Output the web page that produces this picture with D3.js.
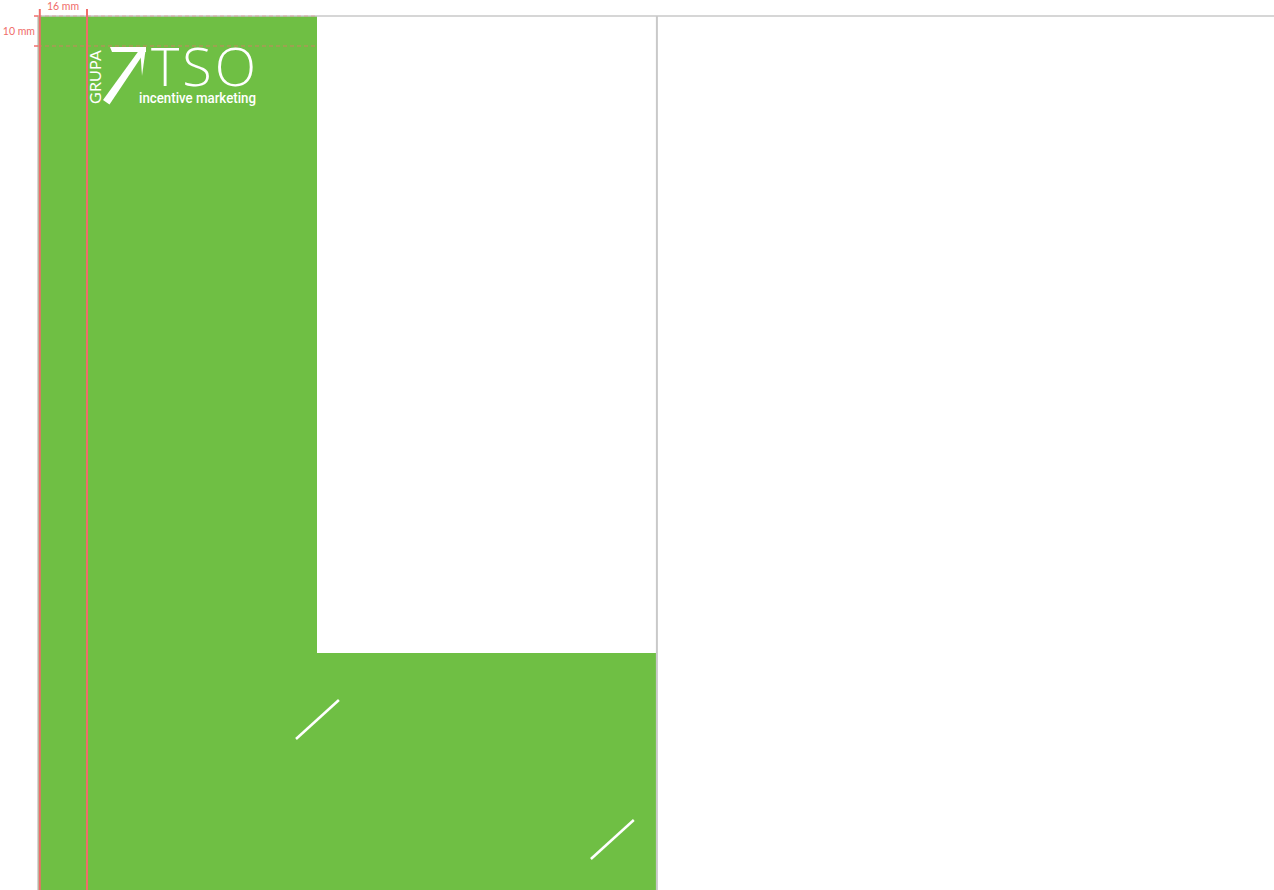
<!DOCTYPE html>
<html>
<head>
<meta charset="utf-8">
<script src="https://cdn.jsdelivr.net/npm/d3@7"></script>
<style>
  body { margin: 0; background: #fff; }
  svg { display: block; font-family: Lato, "Open Sans", sans-serif; }
</style>
</head>
<body>
<svg id="sheet"></svg>
<script>
// layout in mm, 3px per mm
let dimLabels = ["16 mm", "10 mm"];
let marginLeftMm = 16;
let marginTopMm = 10;
// green panel outline (mm from sheet corner)
let panelX = [0, 93, 93, 206, 206, 0];
let panelY = [0, 0, 212.3, 212.3, 300, 300];
// white slashes [x1, y1, x2, y2] in mm
let slashes = [[86, 241, 100.3, 228], [184.3, 281, 198.6, 268]];

let width = 1274, height = 890;
let green = "#6fbf44", red = "#f06c6a", grey = "#c9c9c9";

let svg = d3.select("#sheet").attr("width", width).attr("height", height);

let x = d3.scaleLinear().domain([0, 1]).range([38, 41]);
let y = d3.scaleLinear().domain([0, 1]).range([16, 19]);

// green panel
let line = d3.line().x(d => x(d[0])).y(d => y(d[1]));
svg.append("path")
  .attr("d", line(d3.zip(panelX, panelY)) + "Z")
  .attr("fill", green);

// sheet edges
svg.append("line").attr("x1", x(0)).attr("x2", width).attr("y1", y(0)).attr("y2", y(0))
  .attr("stroke", grey).attr("stroke-width", 1.5);
svg.append("line").attr("x1", x(206.3)).attr("x2", x(206.3)).attr("y1", y(0)).attr("y2", height)
  .attr("stroke", grey).attr("stroke-width", 2);
svg.append("line").attr("x1", x(0)).attr("x2", x(0)).attr("y1", y(0)).attr("y2", height)
  .attr("stroke", grey).attr("stroke-width", 1.5);

// slashes
svg.append("g").selectAll("line").data(slashes).enter().append("line")
  .attr("x1", d => x(d[0])).attr("y1", d => y(d[1]))
  .attr("x2", d => x(d[2])).attr("y2", d => y(d[3]))
  .attr("stroke", "#fff").attr("stroke-width", 2.5);

// logo
let logo = svg.append("g").attr("fill", "#fff");
logo.append("text")
  .attr("transform", "translate(101,104) rotate(-90)")
  .attr("font-size", 16).attr("font-weight", 400).attr("letter-spacing", 0.2)
  .text("GRUPA");
// arrow: top bar, right barb, diagonal stem
logo.append("path").attr("d", "M110,47 L146,47 L146,52 L112,52 Z");
logo.append("path").attr("d", "M140,47 L146,47 L142,76 Z");
logo.append("path").attr("d", "M103,100 L140,49 L145,51.5 L109.5,104.5 Z");
logo.append("text")
  .attr("x", 151).attr("y", 86)
  .attr("font-family", "'Open Sans', sans-serif")
  .attr("font-size", 54).attr("font-weight", 350)
  .attr("textLength", 105).attr("lengthAdjust", "spacing")
  .text("TSO");
logo.append("text")
  .attr("x", 139).attr("y", 103)
  .attr("font-family", "Roboto, sans-serif")
  .attr("font-size", 15).attr("font-weight", 500)
  .attr("textLength", 117).attr("lengthAdjust", "spacingAndGlyphs")
  .text("incentive marketing");

// margin guides
let guides = svg.append("g").attr("stroke", red);
guides.append("line").attr("x1", x(0.6)).attr("x2", x(0.6)).attr("y1", 9).attr("y2", height).attr("stroke-width", 2);
guides.append("line").attr("x1", x(marginLeftMm) + 1).attr("x2", x(marginLeftMm) + 1).attr("y1", 9).attr("y2", height).attr("stroke-width", 2);
guides.append("line").attr("x1", x(0)).attr("x2", x(93)).attr("y1", y(marginTopMm)).attr("y2", y(marginTopMm))
  .attr("stroke-dasharray", "4,3").attr("stroke-width", 1).attr("opacity", 0.7);
guides.append("line").attr("x1", x(0)).attr("x2", x(93)).attr("y1", y(0)).attr("y2", y(0))
  .attr("stroke-dasharray", "4,3").attr("stroke-width", 1).attr("opacity", 0.4);
guides.selectAll("line.tick").data([0, marginTopMm]).enter().append("line")
  .attr("class", "tick")
  .attr("x1", 34).attr("x2", x(0)).attr("y1", d => y(d)).attr("y2", d => y(d))
  .attr("stroke-width", 1.5);

svg.append("text").attr("x", (x(0) + x(marginLeftMm)) / 2 + 1).attr("y", 10)
  .attr("text-anchor", "middle").attr("font-size", 10.5).attr("fill", red)
  .text(dimLabels[0]);
svg.append("text").attr("x", 35).attr("y", (y(0) + y(marginTopMm)) / 2 + 4)
  .attr("text-anchor", "end").attr("font-size", 10.5).attr("fill", red)
  .text(dimLabels[1]);
</script>
</body>
</html>
